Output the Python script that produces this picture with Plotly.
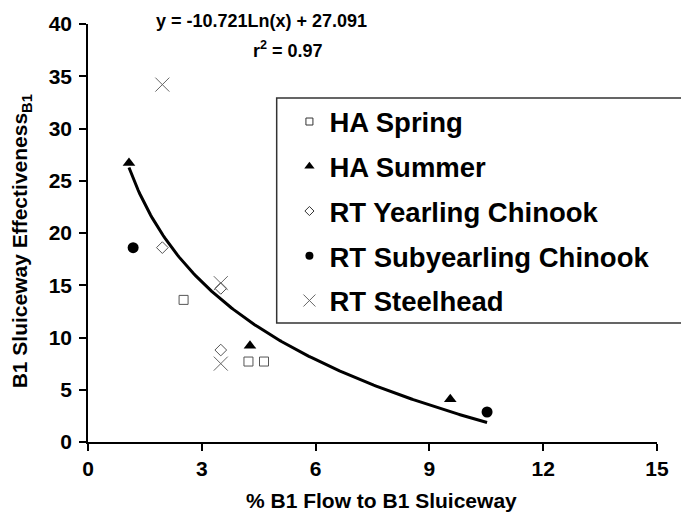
import numpy as np
import plotly.graph_objects as go

# Observed sluiceway effectiveness by group
ha_spring_x = [2.52, 4.23, 4.64]
ha_spring_y = [13.6, 7.7, 7.7]

ha_summer_x = [1.08, 4.27, 9.55]
ha_summer_y = [26.7, 9.2, 4.1]

rt_yearling_x = [1.96, 3.5, 3.5]
rt_yearling_y = [18.6, 14.7, 8.8]

rt_subyearling_x = [1.19, 10.52]
rt_subyearling_y = [18.6, 2.87]

rt_steelhead_x = [1.96, 3.5, 3.5]
rt_steelhead_y = [34.2, 15.2, 7.5]

# Logarithmic trendline: y = a*ln(x) + b
trend_a = -10.721
trend_b = 27.091
trend_r2 = 0.97

x_ticks = [0, 3, 6, 9, 12, 15]
y_ticks = [0, 5, 10, 15, 20, 25, 30, 35, 40]

FONT = "Arial, Liberation Sans, sans-serif"
GRAY = "#555555"

all_x = ha_spring_x + ha_summer_x + rt_yearling_x + rt_subyearling_x + rt_steelhead_x
tx = np.linspace(min(all_x), max(all_x), 200)
ty = trend_a * np.log(tx) + trend_b

series = [
    ("HA Spring", ha_spring_x, ha_spring_y,
     dict(symbol="square-open", size=9, color=GRAY, line=dict(width=1, color=GRAY)),
     dict(symbol="square-open", size=7, color="#333333", line=dict(width=1, color="#333333"))),
    ("HA Summer", ha_summer_x, ha_summer_y,
     dict(symbol="triangle-up", size=11, color="black"),
     dict(symbol="triangle-up", size=9, color="black")),
    ("RT Yearling Chinook", rt_yearling_x, rt_yearling_y,
     dict(symbol="diamond-open", size=9, color=GRAY, line=dict(width=1, color=GRAY)),
     dict(symbol="diamond-open", size=7, color="#333333", line=dict(width=1, color="#333333"))),
    ("RT Subyearling Chinook", rt_subyearling_x, rt_subyearling_y,
     dict(symbol="circle", size=11, color="black"),
     dict(symbol="circle", size=8, color="black")),
    ("RT Steelhead", rt_steelhead_x, rt_steelhead_y,
     dict(symbol="x-thin-open", size=14, color="#666666", line=dict(width=1, color="#666666")),
     dict(symbol="x-thin-open", size=12, color="#666666", line=dict(width=1, color="#666666"))),
]

fig = go.Figure()

fig.add_trace(go.Scatter(x=tx, y=ty, mode="lines", line=dict(color="black", width=3),
                         showlegend=False, hoverinfo="skip"))

for name, xs, ys, mk, lmk in series:
    fig.add_trace(go.Scatter(x=xs, y=ys, mode="markers", marker=mk, name=name,
                             showlegend=False))
for name, xs, ys, mk, lmk in series:
    fig.add_trace(go.Scatter(x=[None], y=[None], mode="markers", marker=lmk, name=name,
                             legendgroup=name, showlegend=True))

axis_common = dict(
    showgrid=False, zeroline=False, showline=True, linecolor="black", linewidth=1.5,
    ticks="outside", ticklen=7, tickwidth=1.5, tickcolor="black",
    tickfont=dict(family=FONT, size=21, color="black", weight="bold"),
)

fig.update_xaxes(range=[0, 15], tickvals=x_ticks, **axis_common)
fig.update_yaxes(range=[0, 40], tickvals=y_ticks, ticklabelstandoff=3, **axis_common)

annotations = [
    dict(text="% B1 Flow to B1 Sluiceway", xref="paper", yref="paper",
         x=0.516, y=-0.141, xanchor="center", yanchor="middle", showarrow=False,
         font=dict(family=FONT, size=21, color="black", weight="bold")),
    dict(text="B1 Sluiceway Effectiveness<sub>B1</sub>", xref="paper", yref="paper",
         x=-0.117, y=0.481, xanchor="center", yanchor="middle", showarrow=False,
         textangle=-90, font=dict(family=FONT, size=21, color="black", weight="bold")),
    dict(text=f"y = {trend_a}Ln(x) + {trend_b}", xref="paper", yref="paper",
         x=0.3057, y=1.007, xanchor="center", yanchor="middle", showarrow=False,
         font=dict(family=FONT, size=18, color="black", weight="bold")),
    dict(text=f"r<sup>2</sup> = {trend_r2}", xref="paper", yref="paper",
         x=0.352, y=0.938, xanchor="center", yanchor="middle", showarrow=False,
         font=dict(family=FONT, size=18, color="black", weight="bold")),
]

# Legend frame, running off the right edge of the figure
shapes = [
    dict(type="rect", xref="paper", yref="paper",
         x0=(280 - 88) / 579, x1=1.2, y0=(442 - 323) / 418, y1=(442 - 98) / 418,
         line=dict(color="#333333", width=1.5), fillcolor="rgba(0,0,0,0)", layer="above"),
]

fig.update_layout(
    width=681, height=514,
    margin=dict(l=88, r=14, t=24, b=72),
    paper_bgcolor="white", plot_bgcolor="white",
    showlegend=True,
    legend=dict(x=0.354, y=0.825, xanchor="left", yanchor="top",
                bgcolor="rgba(0,0,0,0)", borderwidth=0,
                font=dict(family=FONT, size=27.5, color="black", weight="bold"),
                itemwidth=30, tracegroupgap=6),
    annotations=annotations,
    shapes=shapes,
)

fig.write_html("out.html")
